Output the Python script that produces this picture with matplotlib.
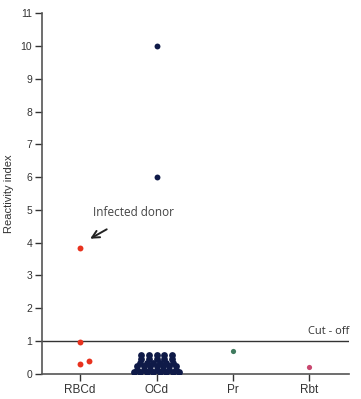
import matplotlib
matplotlib.use("Agg")
import matplotlib.pyplot as plt
import numpy as np

categories = ["RBCd", "OCd", "Pr", "Rbt"]
rbcd_values = [3.85, 0.96, 0.30, 0.40]
rbcd_offsets = [0.0, 0.0, 0.0, 0.12]
ocd_high = [10.0, 6.0]
ocd_low = [0.57, 0.57, 0.57, 0.57, 0.57,
           0.45, 0.45, 0.45, 0.45, 0.45,
           0.34, 0.34, 0.34, 0.34, 0.34, 0.34,
           0.23, 0.23, 0.23, 0.23, 0.23, 0.23, 0.23,
           0.13, 0.13, 0.13, 0.13, 0.13, 0.13, 0.13,
           0.05, 0.05, 0.05, 0.05, 0.05, 0.05, 0.05, 0.05]
pr_values = [0.70]
rbt_values = [0.20]
cutoff = 1.0

navy = "#0f1a48"
red = "#e8321e"
green = "#3f7a5e"
pink = "#c9476f"

plt.rcParams['font.family'] = ['Liberation Sans', 'DejaVu Sans']
fig = plt.figure(figsize=(3.61, 3.99), dpi=100)
ax = fig.add_axes([0.116, 0.063, 0.851, 0.904])

ms = 18
ax.scatter(np.array(rbcd_offsets) + 0, rbcd_values, s=ms, color=red, zorder=3, linewidths=0)
ax.scatter([1] * len(ocd_high), ocd_high, s=ms, color=navy, zorder=3, linewidths=0)

# simple swarm layout of low OCd values
vals = np.array(ocd_low)
xs = []
ys = []
for v in sorted(set(ocd_low), reverse=True):
    n = int(np.sum(vals == v))
    spacing = 0.1 if n <= 5 else 0.085
    offs = (np.arange(n) - (n - 1) / 2) * spacing
    xs.extend(1 + offs)
    ys.extend([v] * n)
ax.scatter(xs, ys, s=ms + 6, color=navy, zorder=3, linewidths=0)

ax.scatter([2], pr_values, s=ms - 4, color=green, zorder=3, linewidths=0)
ax.scatter([3], rbt_values, s=ms - 4, color=pink, zorder=3, linewidths=0)

ax.axhline(cutoff, color="#333333", lw=1.0, zorder=2)
ax.text(3.52, cutoff + 0.12, "Cut - off", ha="right", va="bottom",
        fontsize=8, color="#333333", family=["Open Sans", "DejaVu Sans"])

ax.annotate("", xy=(0.10, 4.08), xytext=(0.38, 4.45),
            arrowprops=dict(arrowstyle="->", color="#222222", lw=1.4,
                            mutation_scale=13))
ax.text(0.17, 4.92, "Infected donor", ha="left", va="center", fontsize=8.5,
        color="#444444", family=["Open Sans", "DejaVu Sans"])

ax.set_xlim(-0.5, 3.52)
ax.set_ylim(0, 11)
ax.set_yticks(range(0, 12))
ax.set_xticks(range(len(categories)))
ax.set_xticklabels(categories, fontsize=8.5, color="#333333")
ax.tick_params(axis="y", labelsize=7.5, colors="#333333", length=5, width=1, pad=2)
ax.tick_params(axis="x", length=5, width=1, pad=2, colors="#333333")
ax.spines["top"].set_visible(False)
ax.spines["right"].set_visible(False)
for s in ["left", "bottom"]:
    ax.spines[s].set_color("#555555")
    ax.spines[s].set_linewidth(1.2)
ax.set_ylabel("Reactivity index", fontsize=8, color="#333333", labelpad=5)

fig.savefig("out.png", dpi=100)
